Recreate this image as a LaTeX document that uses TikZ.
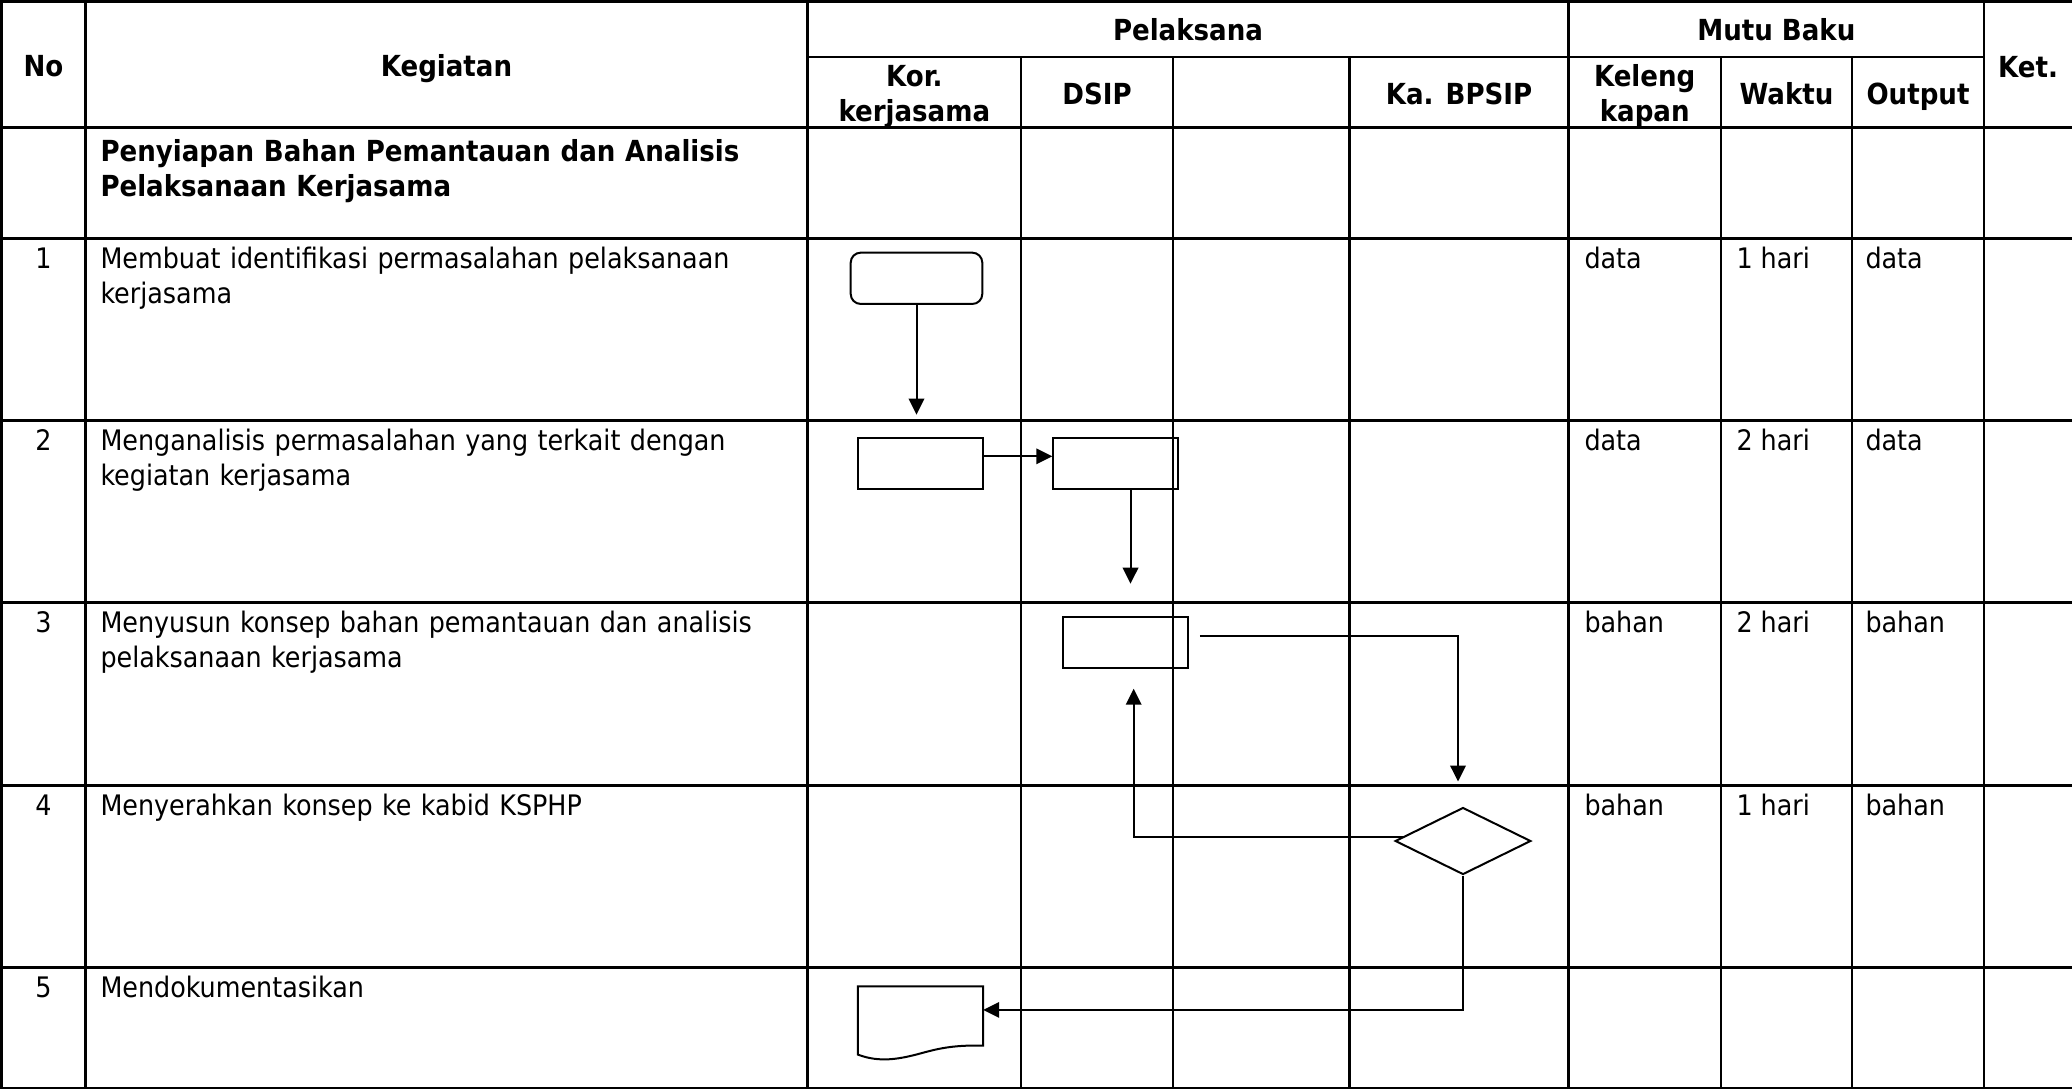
\documentclass[tikz,border=0pt]{standalone}
\usepackage{fontspec}
\setmainfont{DejaVu Sans Condensed}
\usetikzlibrary{arrows.meta,shapes.geometric}
\newdimen\pxu \pxu=0.4pt
\begin{document}
\begin{tikzpicture}[x=0.4pt,y=-0.4pt,
  grid/.style={line width=2.5\pxu, line cap=rect},
  bd/.style={inner sep=0pt, font=\fontsize{11.3}{14}\selectfont},
  hd/.style={inner sep=0pt, font=\fontsize{11.6}{14}\selectfont\bfseries},
  box/.style={draw, line width=2\pxu, inner sep=0pt},
  dia/.style={draw, shape=diamond, line width=2\pxu, inner sep=0pt,
              minimum width=135.7\pxu, minimum height=67\pxu},
  shapeline/.style={draw, line width=2\pxu, line join=miter},
  flow/.style={draw, line width=0.8pt, -{Triangle[length=6.4pt,width=6.2pt]}}]
\useasboundingbox (0,0) rectangle (2072,1089);

% ---- table rules ----
\foreach \ry in {1.3,127.7,238.3,420.7,602.7,785.5,967.7,1088}
  \draw[grid] (0,\ry) -- (2072,\ry);
\draw[grid] (807.5,57) -- (1984,57);
\foreach \cx in {1.3,85.5,807.5,1568.5,1984}
  \draw[grid] (\cx,1.3) -- (\cx,1088);
\foreach \cx in {1021,1173,1349.5,1721,1852}
  \draw[grid] (\cx,57) -- (\cx,1088);

% ---- header ----
\node[hd, anchor=base] (hNo) at (43.4,76) {No};
\node[hd, anchor=base] (hKeg) at (446.5,76) {Kegiatan};
\node[hd, anchor=base] (hPel) at (1188,40) {Pelaksana};
\node[hd, anchor=base] (hMutu) at (1776.3,40) {Mutu Baku};
\node[hd, anchor=base] (hKet) at (2028,77) {Ket.};
\node[hd, anchor=base, text width=200\pxu, align=center] (hKor) at (914.3,86.7) {Kor.\\kerjasama};
\node[hd, anchor=base] (hDSIP) at (1097,104) {DSIP};
\node[hd, anchor=base] (hKa) at (1459,104) {Ka. BPSIP};
\node[hd, anchor=base, text width=150\pxu, align=center] (hKel) at (1644.7,86.7) {Keleng\\kapan};
\node[hd, anchor=base] (hWak) at (1786.5,104) {Waktu};
\node[hd, anchor=base] (hOut) at (1918,104) {Output};

% ---- section title ----
\node[hd, anchor=base west, text width=705\pxu, align=left] (title) at (100,161)
  {Penyiapan Bahan Pemantauan dan Analisis\\Pelaksanaan Kerjasama};

% ---- activity rows ----
\foreach \i/\ry/\keg/\kel/\wak/\out in {
  1/238.3/{Membuat identifikasi permasalahan pelaksanaan\\kerjasama}/data/1 hari/data,
  2/420.7/{Menganalisis permasalahan yang terkait dengan\\kegiatan kerjasama}/data/2 hari/data,
  3/602.7/{Menyusun konsep bahan pemantauan dan analisis\\pelaksanaan kerjasama}/bahan/2 hari/bahan,
  4/785.5/{Menyerahkan konsep ke kabid KSPHP}/bahan/1 hari/bahan,
  5/967.7/{Mendokumentasikan}/{}/{}/{}}
{
  \node[bd, anchor=base] (no\i) at (43.4,\ry+30) {\i};
  \node[bd, anchor=base west, text width=705\pxu, align=left] (keg\i) at (100,\ry+30) {\keg};
  \node[bd, anchor=base west] (kel\i) at (1584,\ry+30) {\kel};
  \node[bd, anchor=base west] (wak\i) at (1736,\ry+30) {\wak};
  \node[bd, anchor=base west] (out\i) at (1865,\ry+30) {\out};
}

% ---- flow symbols ----
\node[box, rounded corners=10\pxu, minimum width=131.6\pxu, minimum height=51.3\pxu] (r1) at (916.5,278.3) {};
\node[box, minimum width=124.7\pxu, minimum height=51.3\pxu] (r2a) at (920.3,463.3) {};
\node[box, minimum width=124.4\pxu, minimum height=51.3\pxu] (r2b) at (1115.5,463.3) {};
\node[box, minimum width=124.5\pxu, minimum height=51\pxu] (r3) at (1125.7,642.2) {};
\node[dia] (dia) at (1463,841) {};
\node[inner sep=0pt, minimum width=124.4\pxu, minimum height=58.3\pxu] (doc) at (920.5,1015.9) {};
\draw[shapeline] (doc.south east) -- (doc.north east) -- (doc.north west)
  -- ([yshift=-3.6pt]doc.south west)
  .. controls (880,1063) and (900,1059) .. (922,1053)
  .. controls (940,1048) and (955,1045) .. (doc.south east) -- cycle;

% ---- connectors ----
\draw[flow, shorten >=8.8pt] (r1.south) -- (r1.south |- r2a.north);
\coordinate (p2) at ([yshift=2.8pt]r2a.east);
\draw[flow] (p2) -- (p2 -| r2b.west);
\coordinate (p3) at ([xshift=6pt]r2b.south);
\draw[flow, shorten >=12.8pt] (p3) -- (p3 |- r3.north);
\coordinate (p4) at ([yshift=2.6pt]r3.east);
\coordinate (p4b) at ([xshift=-2pt]dia.north);
\draw[flow, shorten <=4.4pt, shorten >=10pt] (p4) -| (p4b);
\coordinate (p5) at ([xshift=3.2pt]r3.south);
\draw[flow, shorten >=8pt] (dia.176) -| (p5);
\coordinate (p6) at ([yshift=2.4pt]doc.east);
\draw[flow] (dia.south) |- (p6);
\end{tikzpicture}
\end{document}
